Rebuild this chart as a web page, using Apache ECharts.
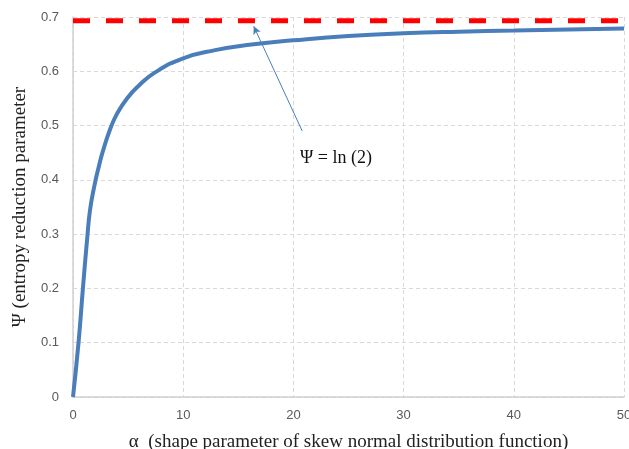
<!DOCTYPE html>
<html>
<head>
<meta charset="utf-8">
<script src="https://cdn.jsdelivr.net/npm/echarts@6/dist/echarts.min.js"></script>
<style>
  html, body { margin: 0; padding: 0; background: #fff; }
  #chart { width: 629px; height: 449px; }
</style>
</head>
<body>
<div id="chart"></div>
<script>
// values
const alphaVals = [0, 0.5, 0.9, 1.3, 1.55, 1.95, 2.35, 2.7, 3.4, 4.0, 4.9, 5.94, 7.45, 10, 12.9, 16, 20, 25, 30, 35, 40, 45, 50];
const psiVals = [0, 0.1, 0.2, 0.295, 0.345, 0.39, 0.425, 0.452, 0.495, 0.522, 0.55, 0.573, 0.598, 0.624, 0.639, 0.649, 0.657, 0.665, 0.67, 0.673, 0.675, 0.677, 0.679];
const limitX = [0, 50];
const limitY = [Math.LN2, Math.LN2];
const noteText = 'Ψ = ln (2)';
const notePos = [20.6, 0.44];
const arrowFrom = [20.8, 0.49];
const arrowTo = [16.4, 0.683];

const serif = '"Liberation Serif", "DejaVu Serif", serif';
const sans = '"Liberation Sans", Arial, sans-serif';
const chart = echarts.init(document.getElementById('chart'));

chart.setOption({
  animation: false,
  grid: {left: 73, right: 5, top: 17, bottom: 52, outerBoundsMode: 'none', containLabel: false},
  xAxis: {
    type: 'value',
    min: 0, max: 50, interval: 10,
    name: 'α  (shape parameter of skew normal distribution function)',
    nameLocation: 'middle',
    nameGap: 36,
    nameTextStyle: {fontFamily: serif, fontSize: 19, color: '#222'},
    axisLine: {show: true, lineStyle: {color: '#d0d0d0', width: 1.5}},
    axisTick: {show: false},
    axisLabel: {fontFamily: sans, fontSize: 13, color: '#595959', margin: 12},
    splitLine: {show: true, lineStyle: {color: '#d9d9d9', type: [4, 3]}}
  },
  yAxis: {
    type: 'value',
    min: 0, max: 0.7, interval: 0.1,
    name: 'Ψ (entropy reduction parameter',
    nameLocation: 'middle',
    nameGap: 43,
    nameTextStyle: {fontFamily: serif, fontSize: 19, color: '#222'},
    axisLine: {show: true, lineStyle: {color: '#d0d0d0', width: 1.5}},
    axisTick: {show: false},
    axisLabel: {fontFamily: sans, fontSize: 13, color: '#595959', margin: 14},
    splitLine: {show: true, lineStyle: {color: '#d9d9d9', type: [4, 3]}}
  },
  series: [
    {
      type: 'line',
      data: alphaVals.map((a, i) => [a, psiVals[i]]),
      smooth: 0.5,
      showSymbol: false,
      lineStyle: {color: '#4a7ebb', width: 4},
      z: 3,
      markLine: {
        silent: true,
        symbol: ['none', 'arrow'],
        symbolSize: [6, 8],
        lineStyle: {color: '#4a7ebb', width: 1, type: 'solid'},
        label: {show: false},
        data: [[{coord: arrowFrom}, {coord: arrowTo}]]
      },
      markPoint: {
        silent: true,
        symbol: 'circle',
        symbolSize: 0,
        data: [{coord: notePos}],
        label: {
          show: true,
          formatter: noteText,
          position: 'right',
          distance: 0,
          fontFamily: serif,
          fontSize: 18,
          color: '#111'
        }
      }
    },
    {
      type: 'line',
      data: limitX.map((x, i) => [x, limitY[i]]),
      showSymbol: false,
      lineStyle: {color: '#ff0000', width: 5, type: [17, 16]},
      z: 4
    }
  ]
});
</script>
</body>
</html>
